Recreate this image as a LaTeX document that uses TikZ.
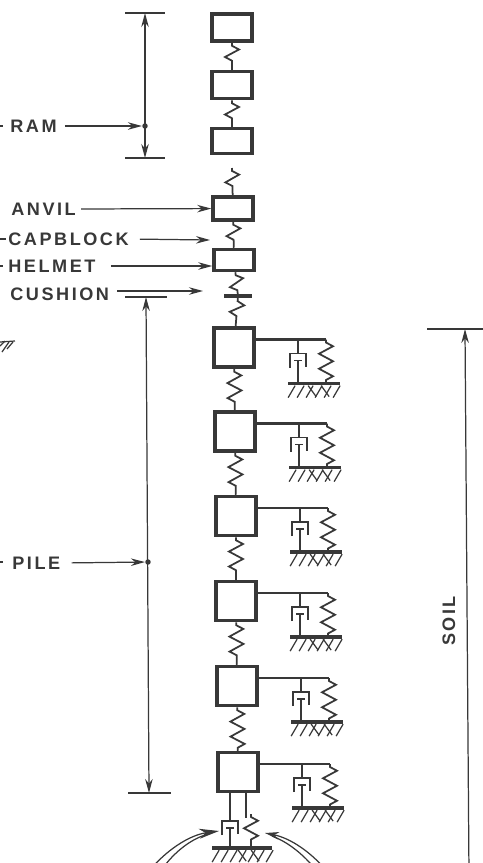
\documentclass[tikz,border=0pt]{standalone}
\usepackage{fontspec}
\setmainfont{Liberation Sans}[LetterSpace=14]
\usetikzlibrary{arrows.meta,decorations.pathmorphing}
\definecolor{ink}{gray}{0.22}
\tikzset{
  mass/.style={draw=ink,line width=2pt,minimum width=0.8cm,minimum height=#1,inner sep=0pt},
  label/.style={anchor=west,inner sep=0pt,text=ink,font=\bfseries\fontsize{10.3}{11}\selectfont},
  thinline/.style={draw=ink,line width=0.7pt},
  beam/.style={draw=ink,line width=1.5pt},
  rod/.style={draw=ink,line width=1pt},
  hatchline/.style={draw=ink,line width=0.7pt},
  spring/.style={draw=ink,line width=1pt,decorate,
    decoration={zigzag,amplitude=0.14cm,segment length=0.3cm,pre length=0.06cm,post length=0.06cm}},
  bar/.style={fill=ink,inner sep=0pt,minimum width=#1,minimum height=2pt},
  dim/.style={thinline,-{Stealth[length=0.28cm,width=0.15cm]}},
  dimboth/.style={thinline,{Stealth[length=0.28cm,width=0.15cm]}-{Stealth[length=0.28cm,width=0.15cm]}},
  bigdim/.style={thinline,-{Stealth[length=0.4cm,width=0.2cm]}}
}
\begin{document}
\begin{tikzpicture}[x=0.02cm,y=-0.02cm]
  \clip (0,0) rectangle (483,863);
  % ram, anvil, helmet
  \node[mass=0.54cm] (ramA) at (232,27.5) {};
  \node[mass=0.54cm] (ramB) at (232,85) {};
  \node[mass=0.50cm] (ramC) at (232,141) {};
  \node[mass=0.46cm] (anvil) at (233,208.5) {};
  \node[mass=0.42cm] (helmet) at (234,260) {};
  \node[bar=0.56cm] (cushion) at (238,296) {};
  \coordinate (ramfree) at (232,168);
  \draw[spring] (ramA) -- (ramB);
  \draw[spring] (ramB) -- (ramC);
  \draw[spring] (ramfree) -- (anvil);
  \draw[spring] (anvil) -- (helmet);
  \draw[spring] (helmet) -- (cushion);
  % pile segments with soil dashpot and spring
  \foreach \i/\x/\y in {1/234/347.5,2/235/431.5,3/236/516,4/236/601,5/237/686,6/238/772} {
    \node[mass=0.78cm] (pile\i) at (\x,\y) {};
    \coordinate (beam\i) at (\x+92,\y-8);
    \coordinate (stem\i) at (\x+64,\y-8);
    \node[bar=1.06cm] (ground\i) at (\x+80,\y+36) {};
    \coordinate (base\i) at (\x+92,\y+36);
    \coordinate (top\i) at (\x+64,\y+6);
    \coordinate (piston\i) at (\x+64,\y+13);
    \coordinate (foot\i) at (\x+64,\y+36);
    \draw[beam] (pile\i.east |- beam\i) -- (beam\i);
    \draw[rod] (stem\i) -- (top\i);
    \draw[rod] (piston\i) -- (foot\i);
    \draw[thinline] ([xshift=-0.16cm,yshift=-0.14cm]piston\i) |- (top\i) -| ([xshift=0.16cm,yshift=-0.12cm]piston\i);
    \draw[rod] ([xshift=-0.08cm]piston\i) -- ([xshift=0.08cm]piston\i);
    \draw[spring] (beam\i) -- (base\i);
    \foreach \h in {0.16,0.34,...,1.1}
      \draw[hatchline] ([xshift=\h cm]ground\i.south west) -- ++(-7,12);
    \foreach \h in {0.42,0.68}
      \draw[hatchline] ([xshift=\h cm]ground\i.south west) -- ++(8,11);
  }
  \draw[spring] (cushion) -- (pile1);
  \foreach \a/\b in {1/2,2/3,3/4,4/5,5/6}
    \draw[spring] (pile\a) -- (pile\b);
  % toe of the pile
  \coordinate (rodL) at (230,793);
  \coordinate (rodR) at (246,793);
  \coordinate (toptoe) at (230,821);
  \coordinate (pistontoe) at (230,828);
  \coordinate (foottoe) at (230,848);
  \coordinate (rodRend) at (246,818);
  \coordinate (springtoe) at (251,814);
  \coordinate (basetoe) at (251,848);
  \node[bar=1.22cm] (groundtoe) at (242,848) {};
  \draw[rod] (rodL) -- (toptoe);
  \draw[rod] (pistontoe) -- (foottoe);
  \draw[thinline] (rodR) -- (rodRend);
  \draw[thinline] ([xshift=-0.16cm,yshift=-0.28cm]toptoe) |- (toptoe) -| ([xshift=0.16cm,yshift=-0.26cm]toptoe);
  \draw[rod] ([xshift=-0.08cm]pistontoe) -- ([xshift=0.08cm]pistontoe);
  \draw[spring] (springtoe) -- (basetoe);
  \foreach \h in {0.16,0.34,...,1.24}
    \draw[hatchline] ([xshift=\h cm]groundtoe.south west) -- ++(-7,12);
  \foreach \h in {0.54,0.8}
    \draw[hatchline] ([xshift=\h cm]groundtoe.south west) -- ++(8,11);
  % arrows at the toe
  \coordinate (tipL) at (219,831);
  \coordinate (tipR) at (265,833);
  \coordinate (arcLa) at (146,875);
  \coordinate (arcLb) at (158,875);
  \coordinate (arcRa) at (330,875);
  \coordinate (arcRb) at (320,875);
  \draw[bigdim] (arcLa) .. controls (165,850) and (190,835) .. (tipL);
  \draw[thinline] (arcLb) .. controls (172,853) and (190,840) .. (205,835);
  \draw[dim] (arcRa) .. controls (312,852) and (290,838) .. (tipR);
  \draw[thinline] (arcRb) .. controls (305,855) and (288,842) .. (272,836);
  % dimension lines
  \coordinate (ramtop) at (145,13);
  \coordinate (rambot) at (145,158);
  \coordinate (piletop) at (146,297);
  \coordinate (pilebot) at (149,793);
  \coordinate (soiltop) at (465,329);
  \coordinate (soilbot) at (469,875);
  \draw[dimboth] (ramtop) -- (rambot);
  \draw[dimboth] (piletop) -- (pilebot);
  \draw[dim] (soilbot) -- (soiltop);
  \draw[thinline] (125,13) -- (165,13);
  \draw[thinline] (125,158) -- (165,158);
  \draw[thinline] (125,297) -- (167,297);
  \draw[thinline] (128,793) -- (171,793);
  \draw[thinline] (427,329) -- (483,329);
  \node[circle,fill=ink,inner sep=1.1pt] (ramdot) at (145,126) {};
  \node[circle,fill=ink,inner sep=1.1pt] (piledot) at (148,562) {};
  % labels
  \node[label] (ramlabel) at (10,126) {RAM};
  \node[label] (anvillabel) at (11,209) {ANVIL};
  \node[label] (capblocklabel) at (8,239) {CAPBLOCK};
  \node[label] (helmetlabel) at (8,266) {HELMET};
  \node[label] (cushionlabel) at (10,294) {CUSHION};
  \node[label] (pilelabel) at (12,563) {PILE};
  \node[label,anchor=center,rotate=90] (soillabel) at (449,621) {SOIL};
  \coordinate (capend) at (210,240);
  \coordinate (cushend) at (203,291);
  \draw[dim,shorten <=0.16cm] (ramlabel.east) -- (ramdot);
  \draw[dim,shorten <=0.1cm] (anvillabel.east) -- (anvil);
  \draw[dim,shorten <=0.22cm] (capblocklabel.east) -- (capend);
  \draw[dim,shorten <=0.3cm] (helmetlabel.east) -- (helmet.west |- helmetlabel);
  \draw[dim,shorten <=0.16cm] (cushionlabel.east |- cushend) -- (cushend);
  \draw[dim,shorten <=0.22cm] (pilelabel.east) -- (piledot);
  % cut-off marks at the left edge
  \draw[thinline] (0,126) -- (3,126);
  \draw[thinline] (0,239) -- (6,239);
  \draw[thinline] (0,266) -- (3,266);
  \draw[thinline] (0,562) -- (3,562);
  \draw[thinline] (0,342) -- (15,341);
  \draw[thinline] (0,346) -- (5,341);
  \draw[thinline] (2,352) -- (9,342);
  \draw[thinline] (7,349) -- (13,342);
\end{tikzpicture}
\end{document}
